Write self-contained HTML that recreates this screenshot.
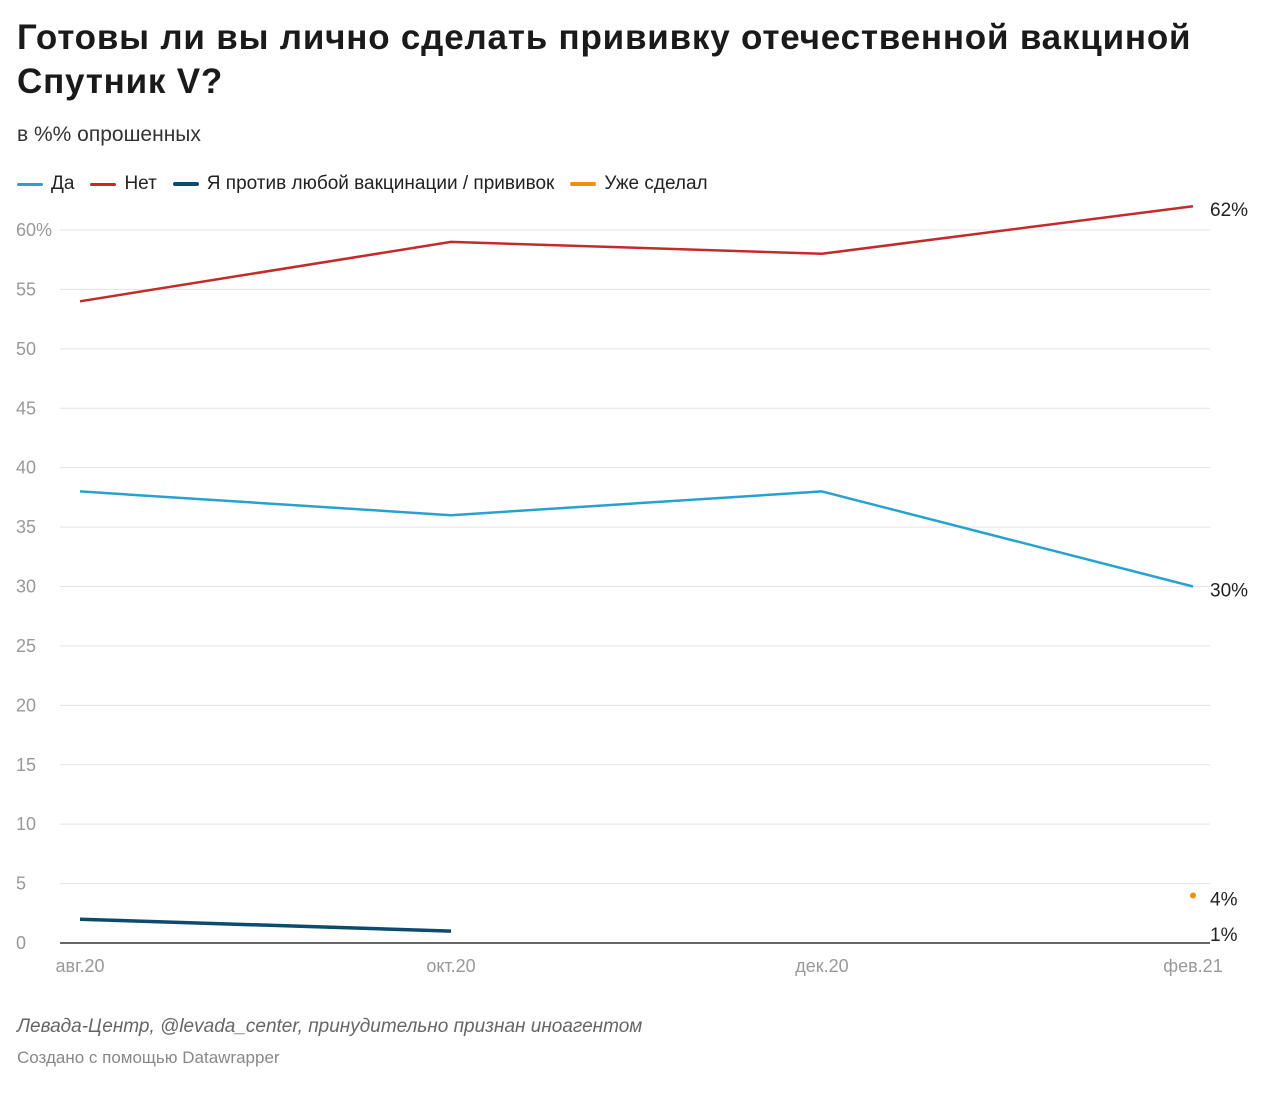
<!DOCTYPE html>
<html><head><meta charset="utf-8">
<style>
body{margin:0;background:#fff;width:1280px;height:1095px;overflow:hidden;font-family:"Liberation Sans","Noto Sans CJK SC",sans-serif;}
h1{position:absolute;left:17px;top:16px;margin:0;font-size:35px;line-height:44px;font-weight:bold;color:#1a1a1a;width:1230px;letter-spacing:0.8px}
.sub{position:absolute;left:17px;top:123px;font-size:21px;color:#333}
.legend{position:absolute;left:17px;top:173px;font-size:19px;color:#222;display:flex;gap:0}
.li{display:flex;align-items:center;margin-right:16px}
.sw{width:26px;height:3px;margin-right:8px;border-radius:2px}
.foot1{position:absolute;left:17px;top:1016px;font-size:19px;font-style:italic;color:#666}
.foot2{position:absolute;left:17px;top:1048px;font-size:17px;color:#888}
svg{position:absolute;left:0;top:0}
</style></head><body>
<h1>Готовы ли вы лично сделать прививку отечественной вакциной Спутник V?</h1>
<div class="sub">в %% опрошенных</div>
<div class="legend">
<div class="li"><span class="sw" style="background:#27a2cf"></span>Да</div>
<div class="li"><span class="sw" style="background:#c52a2a"></span>Нет</div>
<div class="li"><span class="sw" style="background:#0c4a6e;height:4px"></span>Я против любой вакцинации / прививок</div>
<div class="li"><span class="sw" style="background:#f28e0c;height:4px"></span>Уже сделал</div>
</div>
<svg id="chart" width="1280" height="1095"></svg>
<div class="foot1">Левада-Центр, @levada_center, принудительно признан иноагентом</div>
<div class="foot2">Создано с помощью Datawrapper</div>
<script>
const categories=["авг.20","окт.20","дек.20","фев.21"];
const yTicks=[0,5,10,15,20,25,30,35,40,45,50,55,60];
const daValues=[38,36,38,30];
const netValues=[54,59,58,62];
const againstValues=[2,1,null,null];
const doneValues=[null,null,null,4];
const endLabels=[["62%",62],["30%",30],["4%",4],["1%",1]];

const svg=document.getElementById('chart');
const NS='http://www.w3.org/2000/svg';
const x=i=>80+i*(1193-80)/(categories.length-1);
const y=v=>943-v*(943-230)/60;
function mk(t,a){const e=document.createElementNS(NS,t);for(const k in a)e.setAttribute(k,a[k]);svg.appendChild(e);return e;}
yTicks.forEach(v=>{
  if(v>0){const g=mk('line',{x1:60,x2:1210,y1:y(v),y2:y(v),stroke:'#e3e3e3','stroke-width':1});
  
  }
  const t=mk('text',{x:16,y:y(v)+6,'font-size':18,fill:'#999'});
  t.textContent=v===60?'60%':v;
  
  
});
const base=mk('line',{x1:60,x2:1210,y1:y(0),y2:y(0),stroke:'#333','stroke-width':1.5});


categories.forEach((c,i)=>{
  const t=mk('text',{x:x(i),y:972,'font-size':18,fill:'#999','text-anchor':'middle'});
  t.textContent=c;
  
  
});
function line(vals,color,w,name){
  const pts=[];vals.forEach((v,i)=>{if(v!==null)pts.push(x(i)+','+y(v));});
  if(pts.length>1){const p=mk('polyline',{points:pts.join(' '),fill:'none',stroke:color,'stroke-width':w,'stroke-linejoin':'round'});
  
  }
  else if(pts.length===1){const [cx,cy]=pts[0].split(',');const c=mk('circle',{cx:cx,cy:cy,r:3,fill:color});
  
  }
}
line(daValues,'#27a2cf',2.5,'line-da');
line(netValues,'#c52a2a',2.5,'line-net');
line(againstValues,'#0c4a6e',3.5,'line-against');
line(doneValues,'#f28e0c',3,'point-done');
endLabels.forEach(([s,v])=>{
  const t=mk('text',{x:1210,y:y(v)+10,'font-size':19,fill:'#222'});
  t.textContent=s;
  
  
});
</script>
</body></html>
